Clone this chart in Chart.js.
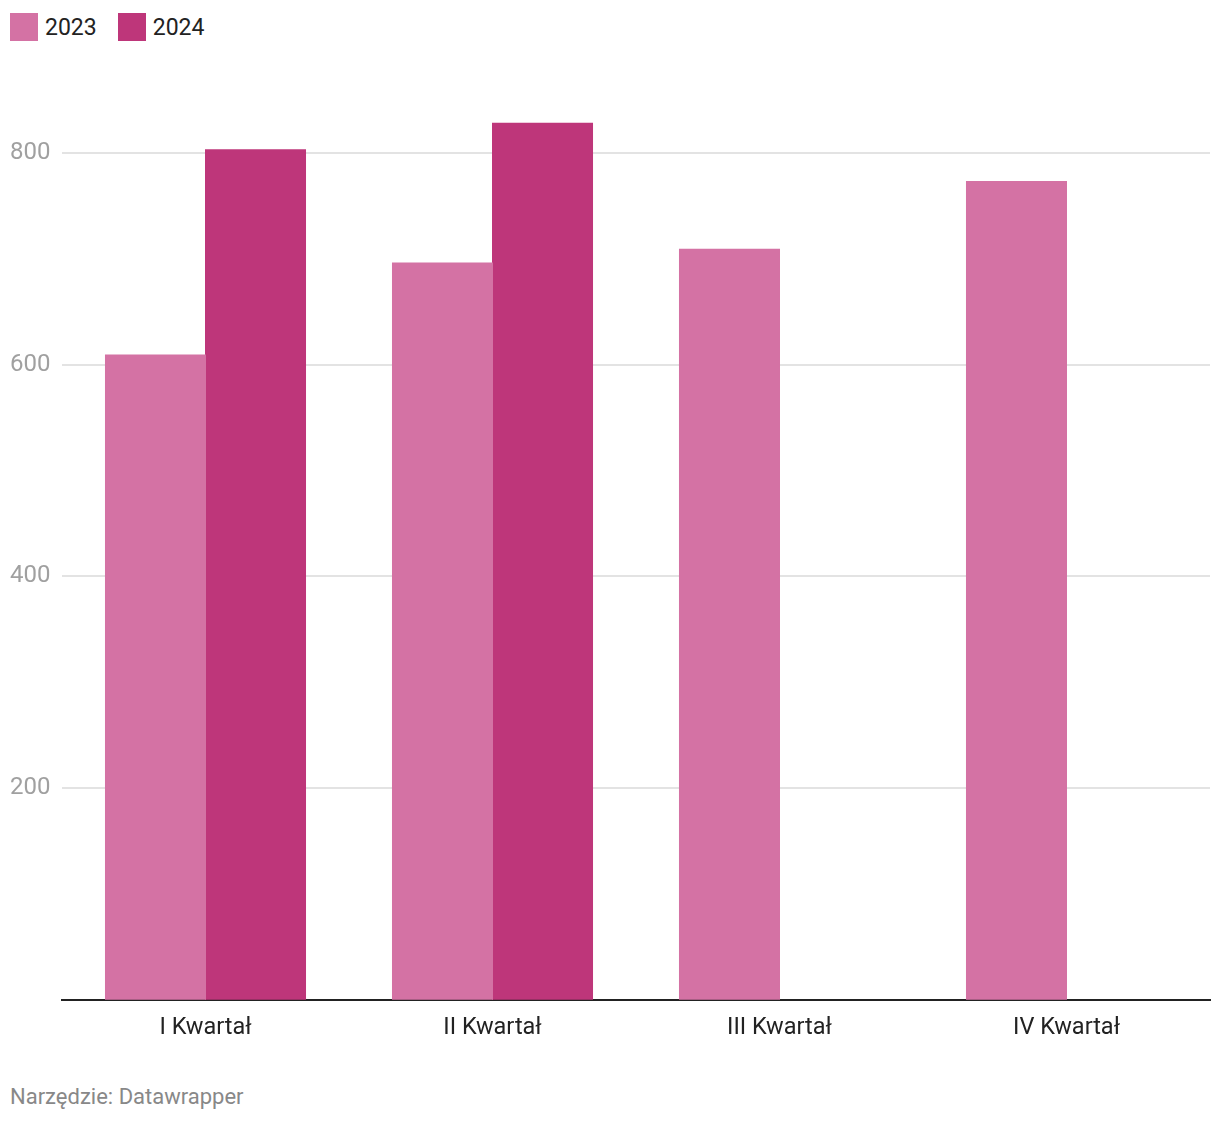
<!DOCTYPE html>
<html>
<head>
<meta charset="utf-8">
<script src="https://cdn.jsdelivr.net/npm/chart.js@4/dist/chart.umd.min.js"></script>
<style>
  html, body { margin: 0; padding: 0; background: #fff; }
  body { width: 1220px; height: 1122px; position: relative; font-family: Roboto, sans-serif; }
  #legend { position: absolute; left: 10px; top: 13px; display: flex; align-items: center; font-size: 23px; color: #222; }
  #legend .item { display: flex; align-items: center; margin-right: 21px; }
  #legend .sw { width: 28px; height: 28px; margin-right: 7px; }
  #wrap { position: absolute; left: 0; top: 0; width: 1220px; height: 1060px; }
  #footer { position: absolute; left: 10px; top: 1084px; font-size: 22px; color: #888; }
</style>
</head>
<body>
<div id="legend"></div>
<div id="wrap"><canvas id="chart"></canvas></div>
<div id="footer">Narzędzie: Datawrapper</div>
<script>
const categories = ["I Kwartał", "II Kwartał", "III Kwartał", "IV Kwartał"];
const values2023 = [609, 696, 709, 773];
const values2024 = [803, 828, null, null];
const yTicks = [200, 400, 600, 800];

const seriesNames = ["2023", "2024"];
const seriesColors = ["#d472a4", "#be367a"];

function initLegend() {
  const el = document.getElementById("legend");
  seriesNames.forEach((name, i) => {
    const item = document.createElement("div");
    item.className = "item";
    item.innerHTML = `<span class="sw" style="background:${seriesColors[i]}"></span><span>${name}</span>`;
    el.appendChild(item);
  });
}

function initChart() {
  const ctx = document.getElementById("chart").getContext("2d");
  new Chart(ctx, {
    type: "bar",
    data: {
      labels: categories,
      datasets: [
        { label: seriesNames[0], data: values2023, backgroundColor: seriesColors[0], inflateAmount: 0.5 },
        { label: seriesNames[1], data: values2024, backgroundColor: seriesColors[1], inflateAmount: 0.5 },
      ],
    },
    options: {
      responsive: true,
      maintainAspectRatio: false,
      animation: false,
      categoryPercentage: 0.697,
      barPercentage: 1,
      layout: { padding: { top: 100, left: 10, right: 10, bottom: 4 } },
      plugins: {
        legend: { display: false },
        tooltip: { enabled: false },
      },
      scales: {
        x: {
          grid: { display: false, drawTicks: false },
          border: { color: "#222", width: 2 },
          ticks: { color: "#222", padding: 14, font: { family: "Roboto", size: 23.5 } },
        },
        y: {
          min: 0,
          max: 850,
          afterBuildTicks: (s) => {
            s.ticks = yTicks.map((v) => ({ value: v }));
          },
          afterFit: (s) => {
            s.width = 52;
          },
          border: { display: false },
          grid: { color: "#e3e3e3", lineWidth: 2, drawTicks: false },
          ticks: {
            color: "#a0a0a0",
            crossAlign: "far",
            padding: 0,
            font: { family: "Roboto", size: 24 },
          },
        },
      },
    },
  });
}

window.addEventListener("DOMContentLoaded", () => {
  initLegend();
  initChart();
});
</script>
</body>
</html>
